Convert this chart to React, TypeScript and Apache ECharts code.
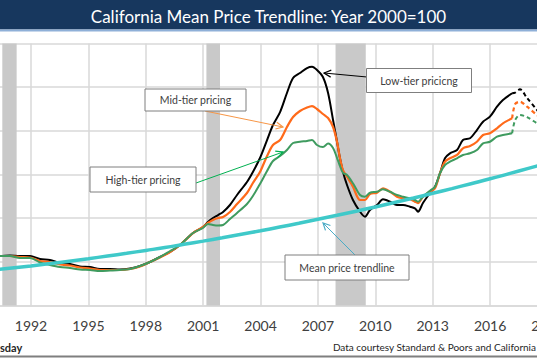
import React, { useEffect, useRef } from "react";
import * as echarts from "echarts";

// Shared sample dates (decimal years) for the three tier series (solid part)
const years = [
  1990.0, 1990.38, 1990.9, 1991.42, 1991.95, 1992.47, 1992.99, 1993.52, 1994.04, 1994.56, 1995.08,
  1995.61, 1996.13, 1996.65, 1997.18, 1997.7, 1998.22, 1998.74, 1999.27, 1999.79,
  2000.47, 2000.99, 2001.25, 2001.51, 2001.78, 2002.04, 2002.4, 2002.77, 2003.29, 2003.6,
  2003.97, 2004.34, 2004.65, 2005.02, 2005.38, 2005.7, 2006.06, 2006.43, 2006.69, 2006.95,
  2007.26, 2007.53, 2007.79, 2008.0, 2008.15, 2008.31, 2008.52, 2008.83, 2009.2,
  2009.46, 2009.72, 2010.09, 2010.4, 2010.77, 2011.13, 2011.45, 2011.81, 2012.07, 2012.23,
  2012.49, 2012.86, 2013.12, 2013.38, 2013.64, 2013.9, 2014.27, 2014.58, 2014.95, 2015.31,
  2015.63, 2015.99, 2016.36, 2016.67, 2017.15,
];

const lowTier = [
  85.5, 85.0, 85.9, 85.0, 85.0, 79.9, 78.1, 73.0, 71.3, 67.0, 66.1,
  62.7, 62.7, 61.8, 63.5, 67.8, 74.7, 83.3, 91.9, 103.9,
  124.5, 134.8, 143.4, 150.3, 155.4, 160.6, 172.6, 189.8, 212.1, 229.3,
  253.3, 284.2, 310.0, 332.3, 365.0, 390.7, 399.3, 407.9, 410.1, 404.5,
  392.4, 365.0, 318.6, 280.8, 253.3, 229.3, 207.0, 181.2, 161.1,
  152.5, 164.0, 172.6, 182.4, 178.3, 172.6, 172.6, 169.7, 166.9, 161.1,
  176.0, 193.2, 204.0, 227.1, 252.8, 261.4, 267.1, 284.2, 287.2, 301.4,
  315.7, 324.3, 341.4, 352.9, 364.5,
];

const midTier = [
  85.5, 85.0, 85.0, 83.3, 82.4, 76.4, 74.7, 70.4, 68.7, 65.3, 63.5,
  61.0, 61.0, 61.0, 62.7, 67.0, 74.7, 82.4, 91.9, 103.9,
  124.5, 134.8, 141.7, 146.8, 150.3, 152.0, 160.6, 174.3, 193.2, 210.4,
  229.3, 256.8, 275.7, 284.2, 306.6, 323.7, 334.1, 340.1, 342.6, 337.5,
  328.9, 322.0, 306.6, 280.8, 253.3, 232.7, 221.2, 204.0, 181.2,
  181.2, 191.5, 193.7, 201.3, 195.4, 186.9, 184.1, 182.4, 178.3, 176.0,
  186.9, 195.4, 201.3, 227.1, 247.0, 252.8, 258.5, 270.0, 273.9, 281.3,
  292.8, 295.8, 304.3, 312.9, 321.5,
];

const highTier = [
  85.5, 85.0, 85.0, 81.6, 81.6, 73.9, 69.6, 66.1, 64.4, 61.8, 61.0,
  59.3, 60.1, 61.0, 62.7, 67.8, 74.7, 83.3, 93.6, 103.9,
  124.5, 133.1, 140.0, 138.3, 137.4, 138.3, 148.6, 158.9, 174.3, 188.1,
  208.7, 231.0, 248.2, 256.8, 267.1, 279.1, 281.3, 282.6, 284.2, 275.7,
  272.2, 278.2, 270.5, 253.3, 239.6, 227.6, 224.1, 209.9, 189.8,
  186.9, 193.7, 195.4, 199.6, 195.4, 189.8, 186.9, 184.1, 181.2, 178.3,
  186.9, 197.2, 204.0, 227.1, 241.3, 247.0, 252.8, 258.5, 261.4, 267.1,
  278.6, 281.3, 289.9, 292.8, 295.8,
];

// Projected (dashed) tail
const projYears = [2017.15, 2017.31, 2017.56, 2017.93, 2018.45, 2018.61];
const lowProj = [364.5, 365.5, 371.3, 356.4, 335.8, 327.2];
const midProj = [321.5, 346.1, 350.0, 341.4, 327.2, 323.7];
const highProj = [295.8, 318.6, 327.2, 323.7, 312.9, 310.0];

// Mean price trendline
const trendYears = [
  1990, 1991, 1992, 1993, 1994, 1995, 1996, 1997, 1998, 1999, 2000, 2001, 2002, 2003, 2004,
  2005, 2006, 2007, 2008, 2009, 2010, 2011, 2012, 2013, 2014, 2015, 2016, 2017, 2018, 2019,
];
const trendValues = [
  60.8, 64.4, 68.0, 72.0, 76.1, 80.4, 85.0, 89.7, 94.6, 99.6, 105.1, 110.6, 116.3, 122.3, 128.3,
  134.7, 141.2, 148.0, 154.9, 162.0, 169.3, 176.9, 184.6, 192.7, 200.8, 209.2, 217.6, 226.5, 235.5, 244.6,
];

// Recessions (shaded)
const recessionStart = [1990.5, 2001.17, 2007.92];
const recessionEnd = [1991.25, 2001.88, 2009.5];

const TITLE = "California Mean Price Trendline: Year 2000=100";
const FONT = "Lato, 'Noto Sans', sans-serif";

const zip = (xs: number[], ys: number[]) => xs.map((x, i) => [x, ys[i]]);

function arrow(x1: number, y1: number, x2: number, y2: number, color: string) {
  const dx = x2 - x1;
  const dy = y2 - y1;
  const len = Math.sqrt(dx * dx + dy * dy);
  const ux = dx / len;
  const uy = dy / len;
  const bx = x2 - ux * 7;
  const by = y2 - uy * 7;
  const px = -uy * 3.5;
  const py = ux * 3.5;
  return [
    { type: "line", z: 100, shape: { x1, y1, x2, y2 }, style: { stroke: color, lineWidth: 1 } },
    {
      type: "polyline",
      z: 100,
      shape: { points: [[bx + px, by + py], [x2, y2], [bx - px, by - py]] },
      style: { stroke: color, lineWidth: 1.2, fill: null },
    },
  ];
}

function box(x: number, y: number, w: number, h: number, text: string) {
  return [
    {
      type: "rect",
      z: 101,
      shape: { x, y, width: w, height: h },
      style: { fill: "#ffffff", stroke: "#7f7f7f", lineWidth: 1 },
    },
    {
      type: "text",
      z: 102,
      x: x + w / 2,
      y: y + h / 2,
      style: {
        text,
        fill: "#404040",
        fontSize: 10.5,
        fontFamily: FONT,
        align: "center",
        verticalAlign: "middle",
        textAlign: "center",
        textVerticalAlign: "middle",
      },
    },
  ];
}

export default function App() {
  const ref = useRef<HTMLDivElement>(null);

  useEffect(() => {
    if (!ref.current) return;
    const chart = echarts.init(ref.current, null, { renderer: "svg" });

    const graphics: any[] = [
      { type: "rect", z: 100, shape: { x: 0, y: 0, width: 537, height: 29.5 }, style: { fill: "#17375e" } },
      { type: "rect", z: 100, shape: { x: 0, y: 29.5, width: 537, height: 2 }, style: { fill: "#8fb0d8" } },
      {
        type: "text",
        z: 101,
        x: 268.5,
        y: 16,
        style: {
          text: TITLE,
          fill: "#ffffff",
          fontSize: 17,
          fontFamily: FONT,
          align: "center",
          verticalAlign: "middle",
          textAlign: "center",
          textVerticalAlign: "middle",
        },
      },
      { type: "rect", z: 100, shape: { x: 0, y: 355.5, width: 537, height: 2 }, style: { fill: "#7f7f7f" } },
      {
        type: "text",
        z: 101,
        x: 0,
        y: 347,
        style: {
          text: "sday",
          fill: "#262626",
          fontSize: 11,
          fontWeight: "bold",
          fontFamily: FONT,
          align: "left",
          verticalAlign: "middle",
          textAlign: "left",
          textVerticalAlign: "middle",
        },
      },
      {
        type: "text",
        z: 101,
        x: 536,
        y: 347,
        style: {
          text: "Data courtesy Standard & Poors and California",
          fill: "#262626",
          fontSize: 10,
          fontFamily: FONT,
          align: "right",
          verticalAlign: "middle",
          textAlign: "right",
          textVerticalAlign: "middle",
        },
      },
      ...arrow(205, 111, 283, 127, "#f79646"),
      ...arrow(196, 183, 283, 152, "#00b050"),
      ...arrow(367, 77, 324, 73, "#000000"),
      ...arrow(355, 255, 323, 223, "#4bacc6"),
      ...box(145, 89, 101, 22, "Mid-tier pricing"),
      ...box(90, 167, 106, 25, "High-tier pricing"),
      ...box(366.5, 68.5, 105, 24, "Low-tier pricicng"),
      ...box(285, 255, 124, 25, "Mean price trendline"),
    ];

    const gridColor = "#d9d9d9";

    const option: any = {
      animation: false,
      grid: {
        left: -26.4,
        right: -10.5,
        top: 43.5,
        bottom: 54.5,
        containLabel: false,
        outerBoundsMode: "none",
      },
      xAxis: {
        type: "value",
        min: 1989,
        max: 2019,
        interval: 3,
        axisLine: { show: true, lineStyle: { color: gridColor, width: 1.5 } },
        axisTick: { show: false },
        axisLabel: {
          show: true,
          showMinLabel: false,
          formatter: (v: number) => String(Math.round(v)),
          color: "#404040",
          fontSize: 14,
          fontFamily: FONT,
          margin: 13,
        },
        splitLine: { show: true, lineStyle: { color: gridColor, width: 1.5 } },
      },
      yAxis: {
        type: "value",
        min: 0,
        max: 450,
        interval: 75,
        axisLabel: { show: false },
        axisLine: { show: false },
        axisTick: { show: false },
        splitLine: { show: true, lineStyle: { color: gridColor, width: 1.5 } },
      },
      series: [
        {
          type: "line",
          name: "recessions",
          data: [],
          silent: true,
          z: 1,
          markArea: {
            silent: true,
            itemStyle: { color: "#c9c9c9" },
            data: recessionStart.map((s, i) => [{ xAxis: s }, { xAxis: recessionEnd[i] }]),
          },
        },
        {
          type: "line",
          name: "Low-tier",
          data: zip(years, lowTier),
          showSymbol: false,
          smooth: 0.3,
          lineStyle: { color: "#000000", width: 2 },
          z: 3,
        },
        {
          type: "line",
          name: "Low-tier projection",
          data: zip(projYears, lowProj),
          showSymbol: false,
          smooth: 0.3,
          lineStyle: { color: "#000000", width: 2, type: [4, 3] },
          z: 3,
        },
        {
          type: "line",
          name: "Mid-tier",
          data: zip(years, midTier),
          showSymbol: false,
          smooth: 0.3,
          lineStyle: { color: "#ff6a1a", width: 2.2 },
          z: 4,
        },
        {
          type: "line",
          name: "Mid-tier projection",
          data: zip(projYears, midProj),
          showSymbol: false,
          smooth: 0.3,
          lineStyle: { color: "#ff6a1a", width: 2.2, type: [4, 3] },
          z: 4,
        },
        {
          type: "line",
          name: "High-tier",
          data: zip(years, highTier),
          showSymbol: false,
          smooth: 0.3,
          lineStyle: { color: "#3f9b5f", width: 2 },
          z: 5,
        },
        {
          type: "line",
          name: "High-tier projection",
          data: zip(projYears, highProj),
          showSymbol: false,
          smooth: 0.3,
          lineStyle: { color: "#3f9b5f", width: 2, type: [4, 3] },
          z: 5,
        },
        {
          type: "line",
          name: "Mean price trendline",
          data: zip(trendYears, trendValues),
          showSymbol: false,
          smooth: true,
          lineStyle: { color: "#3fc9c9", width: 3.5 },
          z: 6,
        },
      ],
      graphic: graphics,
    };

    chart.setOption(option);
    return () => chart.dispose();
  }, []);

  return (
    <div
      ref={ref}
      style={{ position: "fixed", left: 0, top: 0, width: 537, height: 360, background: "#ffffff" }}
    />
  );
}
